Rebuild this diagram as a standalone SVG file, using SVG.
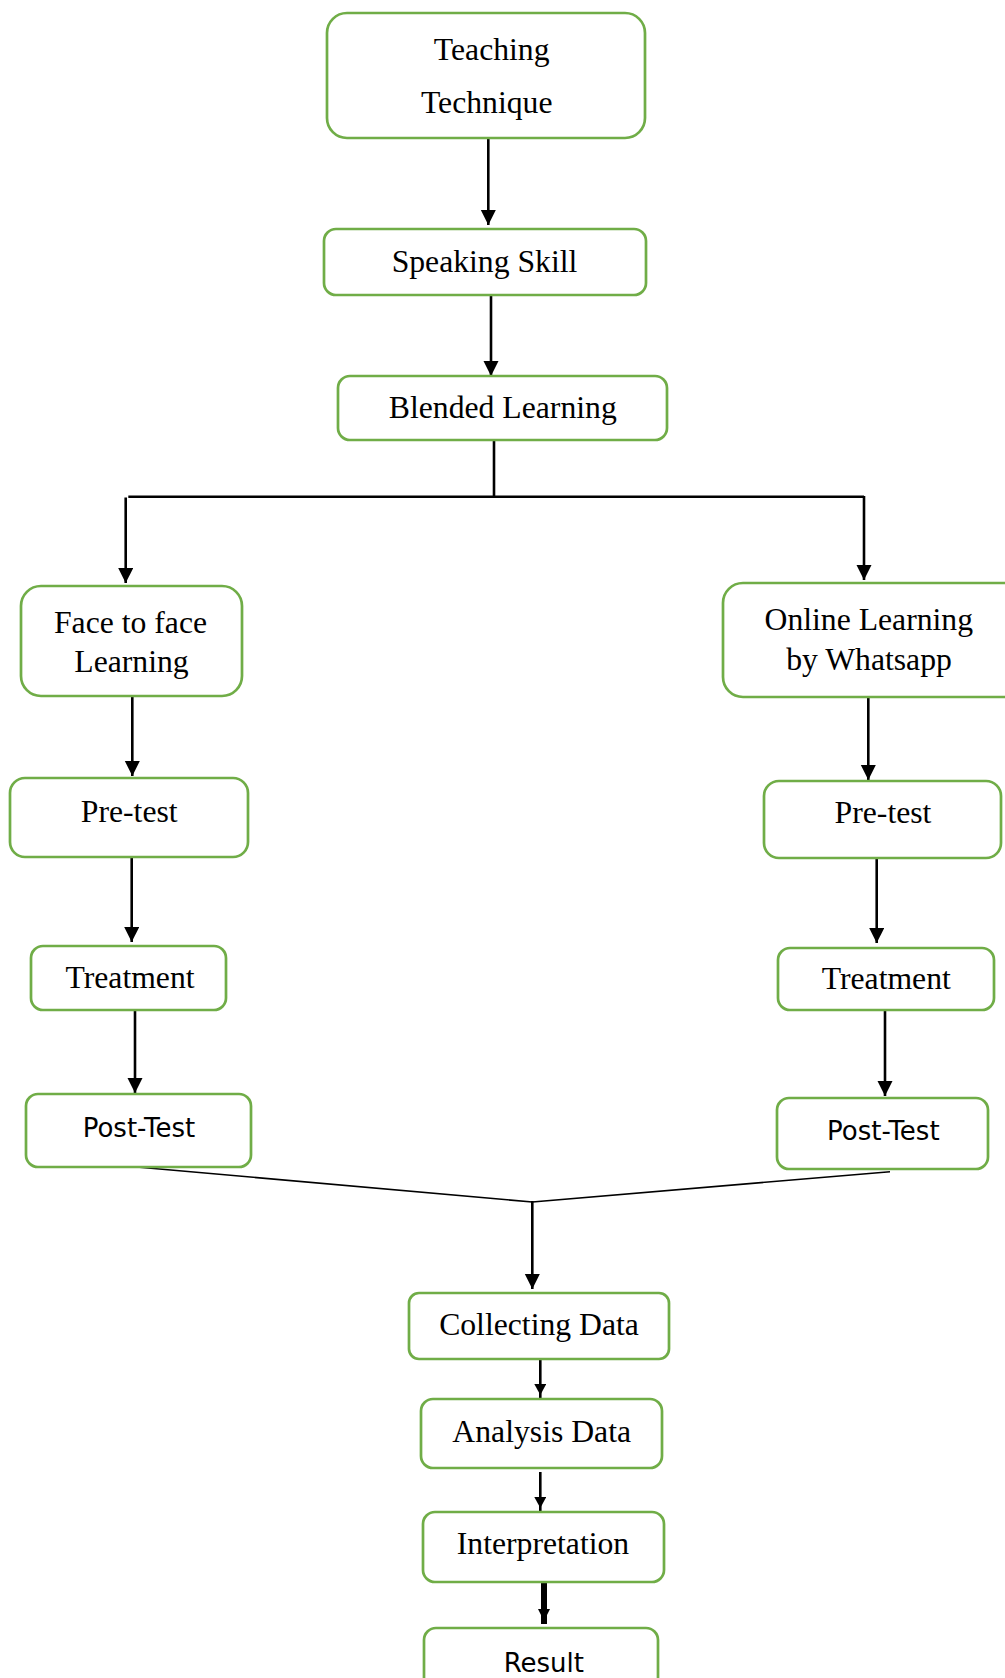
<svg xmlns="http://www.w3.org/2000/svg" width="1005" height="1678" viewBox="0 0 1005 1678">
<style>
  .box { fill: #ffffff; stroke: #70AD47; stroke-width: 2.7; }
  .serif { font-family: "Liberation Serif", "Times New Roman", serif; font-size: 31.7px; fill: #000; text-anchor: middle; }
  .sans { font-family: "DejaVu Sans", "Liberation Sans", sans-serif; font-size: 26px; fill: #000; text-anchor: middle; }
  .conn { stroke: #000; stroke-width: 2.6; fill: none; }
  .thin { stroke: #000; stroke-width: 1.6; fill: none; }
</style>
<defs>
  <marker id="arrow" markerUnits="userSpaceOnUse" markerWidth="16" markerHeight="16" refX="15" refY="7.5" orient="auto">
    <path d="M0,0 L15,7.5 L0,15 z" fill="#000"/>
  </marker>
  <marker id="small" markerUnits="userSpaceOnUse" markerWidth="20" markerHeight="14" refX="15" refY="6" orient="auto">
    <path d="M0,0 L11,6 L0,12 z" fill="#000"/>
  </marker>
</defs>
<rect width="1005" height="1678" fill="#ffffff"/>

<g id="connectors">
  <line class="conn" x1="488.3" y1="138" x2="488.3" y2="225" marker-end="url(#arrow)"/>
  <line class="conn" x1="491" y1="295" x2="491" y2="376" marker-end="url(#arrow)"/>
  <line class="conn" x1="494" y1="440" x2="494" y2="496.7"/>
  <line class="conn" x1="128.3" y1="496.7" x2="864" y2="496.7"/>
  <line class="conn" x1="125.7" y1="497.5" x2="125.7" y2="583" marker-end="url(#arrow)"/>
  <line class="conn" x1="864" y1="496" x2="864" y2="580" marker-end="url(#arrow)"/>
  <line class="conn" x1="132.3" y1="696" x2="132.3" y2="776" marker-end="url(#arrow)"/>
  <line class="conn" x1="868.3" y1="697" x2="868.3" y2="780" marker-end="url(#arrow)"/>
  <line class="conn" x1="131.7" y1="857" x2="131.7" y2="942" marker-end="url(#arrow)"/>
  <line class="conn" x1="876.7" y1="858" x2="876.7" y2="943" marker-end="url(#arrow)"/>
  <line class="conn" x1="135" y1="1010" x2="135" y2="1093" marker-end="url(#arrow)"/>
  <line class="conn" x1="885" y1="1010" x2="885" y2="1096" marker-end="url(#arrow)"/>
  <line class="thin" x1="136.7" y1="1167" x2="532.3" y2="1202"/>
  <line class="thin" x1="890" y1="1171.7" x2="532.3" y2="1202"/>
  <line class="conn" x1="532.3" y1="1201" x2="532.3" y2="1289" marker-end="url(#arrow)"/>
  <line class="conn" x1="540.3" y1="1359" x2="540.3" y2="1399" marker-end="url(#small)"/>
  <line class="conn" x1="540.3" y1="1472" x2="540.3" y2="1512" marker-end="url(#small)"/>
  <line stroke="#000" stroke-width="6" x1="544" y1="1582" x2="544" y2="1624"/>
  <path d="M538,1609 L550,1609 L544,1621 z" fill="#000"/>
</g>

<g id="teaching-technique">
  <rect class="box" x="327" y="13" width="318" height="125" rx="20"/>
  <text class="serif" x="491.7" y="60">Teaching</text>
  <text class="serif" x="486.7" y="112.7">Technique</text>
</g>
<g id="speaking-skill">
  <rect class="box" x="324" y="229" width="322" height="66" rx="12"/>
  <text class="serif" x="484.5" y="271.7">Speaking Skill</text>
</g>
<g id="blended-learning">
  <rect class="box" x="338" y="376" width="329" height="64" rx="12"/>
  <text class="serif" x="502.8" y="418.3">Blended Learning</text>
</g>
<g id="face-to-face">
  <rect class="box" x="21" y="586" width="221" height="110" rx="20"/>
  <text class="serif" x="130.5" y="632.7">Face to face</text>
  <text class="serif" x="131.5" y="671.7">Learning</text>
</g>
<g id="online-learning">
  <rect class="box" x="723" y="583" width="320" height="114" rx="20"/>
  <text class="serif" x="868.8" y="630">Online Learning</text>
  <text class="serif" x="869" y="670">by Whatsapp</text>
</g>
<g id="pretest-left">
  <rect class="box" x="10" y="778" width="238" height="79" rx="15"/>
  <text class="serif" x="129.2" y="821.7">Pre-test</text>
</g>
<g id="treatment-left">
  <rect class="box" x="31" y="946" width="195" height="64" rx="12"/>
  <text class="serif" x="130" y="988.3">Treatment</text>
</g>
<g id="posttest-left">
  <rect class="box" x="26" y="1094" width="225" height="73" rx="12"/>
  <text class="sans" x="139" y="1136.7">Post-Test</text>
</g>
<g id="pretest-right">
  <rect class="box" x="764" y="781" width="237" height="77" rx="15"/>
  <text class="serif" x="883" y="823.3">Pre-test</text>
</g>
<g id="treatment-right">
  <rect class="box" x="778" y="948" width="216" height="62" rx="12"/>
  <text class="serif" x="886.3" y="989.3">Treatment</text>
</g>
<g id="posttest-right">
  <rect class="box" x="777" y="1098" width="211" height="71" rx="12"/>
  <text class="sans" x="883.3" y="1140">Post-Test</text>
</g>
<g id="collecting-data">
  <rect class="box" x="409" y="1293" width="260" height="66" rx="10"/>
  <text class="serif" x="539" y="1335">Collecting Data</text>
</g>
<g id="analysis-data">
  <rect class="box" x="421" y="1399" width="241" height="69" rx="12"/>
  <text class="serif" x="541.7" y="1441.7">Analysis Data</text>
</g>
<g id="interpretation">
  <rect class="box" x="423" y="1512" width="241" height="70" rx="12"/>
  <text class="serif" x="543" y="1554">Interpretation</text>
</g>
<g id="result">
  <rect class="box" x="424" y="1628" width="234" height="80" rx="12"/>
  <text class="sans" x="543.8" y="1671.7">Result</text>
</g>
</svg>
